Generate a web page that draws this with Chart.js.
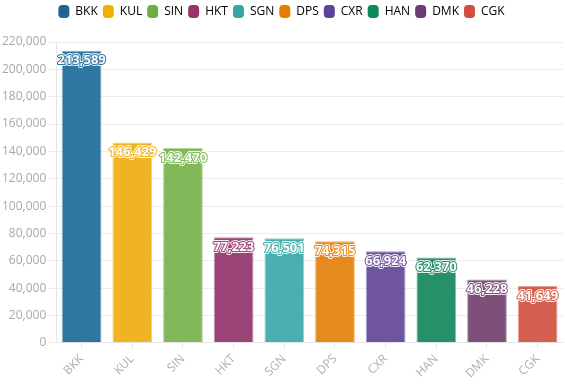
<!DOCTYPE html>
<html>
<head>
<meta charset="utf-8">
<script src="https://cdn.jsdelivr.net/npm/chart.js@4"></script>
<style>
  html, body { margin: 0; padding: 0; background: #fff; }
  #wrap { width: 565px; height: 384px; }
</style>
</head>
<body>
<div id="wrap"><canvas id="chart"></canvas></div>
<script>
const airports = ["BKK", "KUL", "SIN", "HKT", "SGN", "DPS", "CXR", "HAN", "DMK", "CGK"];
const passengers = [213589, 146429, 142470, 77223, 76501, 74315, 66924, 62370, 46228, 41649];
const barColors = ["#2f76a0", "#f0b323", "#80b85a", "#9c4478", "#4aafaf", "#e6891e", "#6f55a0", "#269068", "#7e5079", "#d3604e"];
const legendColors = ["#1f6391", "#f0b000", "#70ad47", "#993366", "#33a5a5", "#e67e00", "#5c4399", "#0e8a5a", "#6b3b72", "#d05040"];
const yTicks = [0, 20000, 40000, 60000, 80000, 100000, 120000, 140000, 160000, 180000, 200000, 220000];

Chart.defaults.font.family = "'Open Sans', 'Noto Sans', sans-serif";

// white labels with a coloured outline, sitting just under the bar top
const barLabels = {
    id: 'barLabels',
    afterDatasetsDraw(chart) {
        const ctx = chart.ctx;
        const meta = chart.getDatasetMeta(0);
        ctx.save();
        ctx.font = "bold 13px 'Open Sans', 'Noto Sans', sans-serif";
        ctx.textAlign = 'center';
        ctx.textBaseline = 'middle';
        ctx.lineJoin = 'round';
        meta.data.forEach((bar, i) => {
            const txt = passengers[i].toLocaleString('en-US');
            const y = bar.y + 10;
            ctx.strokeStyle = 'rgba(255,255,255,0.9)';
            ctx.lineWidth = 4;
            ctx.strokeText(txt, bar.x, y);
            ctx.strokeStyle = barColors[i];
            ctx.lineWidth = 2;
            ctx.strokeText(txt, bar.x, y);
            ctx.fillStyle = '#ffffff';
            ctx.fillText(txt, bar.x, y);
        });
        ctx.restore();
    }
};

// legend needs a bit more room under it
const legendSpace = {
    id: 'legendSpace',
    beforeInit(chart) {
        const fit = chart.legend.fit;
        chart.legend.fit = function () {
            fit.call(this);
            this.height += 14;
        };
    }
};

new Chart(document.getElementById('chart'), {
    type: 'bar',
    data: {
        labels: airports,
        datasets: [{
            data: passengers,
            backgroundColor: barColors,
            borderColor: barColors.map(c => c + '99'),
            borderWidth: 1,
            categoryPercentage: 0.8,
            barPercentage: 0.98
        }]
    },
    options: {
        responsive: true,
        maintainAspectRatio: false,
        animation: false,
        layout: { padding: { left: 0, right: 2, top: 0, bottom: 0 } },
        plugins: {
            tooltip: { enabled: false },
            legend: {
                position: 'top',
                labels: {
                    boxWidth: 11,
                    boxHeight: 13,
                    padding: 5,
                    color: '#555',
                    font: { size: 12 },
                    generateLabels: () => airports.map((a, i) => ({
                        text: a,
                        fillStyle: legendColors[i],
                        strokeStyle: legendColors[i],
                        lineWidth: 0,
                        borderRadius: 4,
                        index: i
                    }))
                }
            }
        },
        scales: {
            x: {
                grid: { display: true, drawOnChartArea: false, offset: false, color: '#e6e6e6', tickLength: 6 },
                border: { color: '#e6e6e6' },
                ticks: { color: '#b0b0b0', font: { size: 12 }, maxRotation: 45, minRotation: 45 }
            },
            y: {
                min: 0,
                max: 220000,
                afterBuildTicks: axis => { axis.ticks = yTicks.map(v => ({ value: v })); },
                grid: { color: '#ececec', tickLength: 8 },
                border: { color: '#e6e6e6' },
                ticks: {
                    color: '#a8a8a8',
                    font: { size: 12 },
                    padding: 2,
                    callback: v => v.toLocaleString('en-US')
                }
            }
        }
    },
    plugins: [barLabels, legendSpace]
});
</script>
</body>
</html>
